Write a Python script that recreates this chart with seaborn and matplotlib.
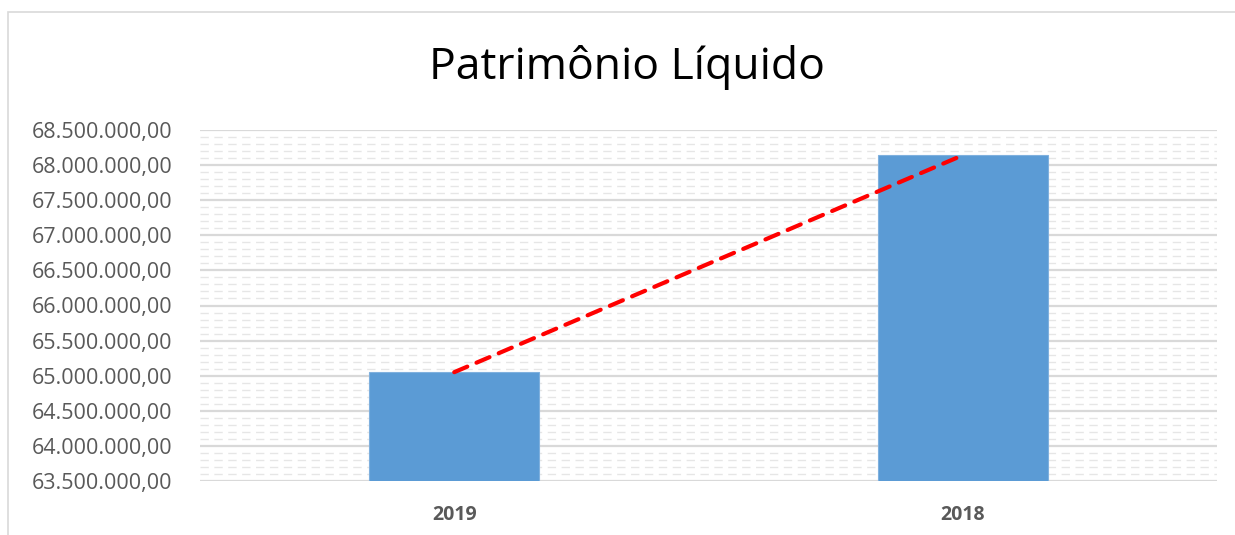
import matplotlib
matplotlib.use("Agg")
import matplotlib.pyplot as plt
from matplotlib.ticker import MultipleLocator, FuncFormatter
from matplotlib.patches import Rectangle
import seaborn as sns
import pandas as pd

categories = ["2019", "2018"]
values = [65050000, 68140000]
title = "Patrimônio Líquido"

sns.set_style("white")
plt.rcParams['font.family'] = ['Open Sans', 'DejaVu Sans']

fig = plt.figure(figsize=(12.35, 5.35), dpi=100)
fig.patches.append(Rectangle((8/1235, -0.1), 1.1, 1 - 12/535 + 0.1, transform=fig.transFigure,
                             fill=False, edgecolor='#d9d9d9', linewidth=1.2))
ax = fig.add_axes([200/1235, 1 - 481/535, 1017/1235, 351/535])

df = pd.DataFrame({"ano": categories, "valor": values})
sns.barplot(data=df, x="ano", y="valor", color="#5B9BD5", width=0.334, ax=ax,
            saturation=1, edgecolor="#7fb0de", linewidth=0.8, zorder=3)
ax.plot(range(len(categories)), values, color="#ff0000", linewidth=3,
        linestyle=(0, (3.4, 2.4)), zorder=4, dash_capstyle='round')

ax.set_ylim(63500000, 68500000)
ax.set_xlim(-0.5, 1.5)
ax.yaxis.set_major_locator(MultipleLocator(500000))
ax.yaxis.set_minor_locator(MultipleLocator(100000))

def br(v, pos):
    s = f"{v:,.2f}"
    return s.replace(",", "X").replace(".", ",").replace("X", ".")
ax.yaxis.set_major_formatter(FuncFormatter(br))

ax.grid(which='major', axis='y', color='#d9d9d9', linewidth=1.6, zorder=0)
ax.grid(which='minor', axis='y', color='#e6e6e6', linewidth=1.0, linestyle=(0, (6, 4)), zorder=0)
ax.set_axisbelow(True)
for s in ax.spines.values():
    s.set_visible(False)
ax.tick_params(axis='both', which='both', length=0)
ax.tick_params(axis='y', labelsize=15.5, labelcolor='#595959', pad=20)
ax.tick_params(axis='x', labelsize=14, labelcolor='#595959', pad=17)
for lbl in ax.get_xticklabels():
    lbl.set_fontweight('bold')
ax.set_xlabel("")
ax.set_ylabel("")

fig.text(627/1235, 1 - 68/535, title, ha='center', va='center', fontsize=32, color='#000000')

fig.savefig("out.png", dpi=100)
